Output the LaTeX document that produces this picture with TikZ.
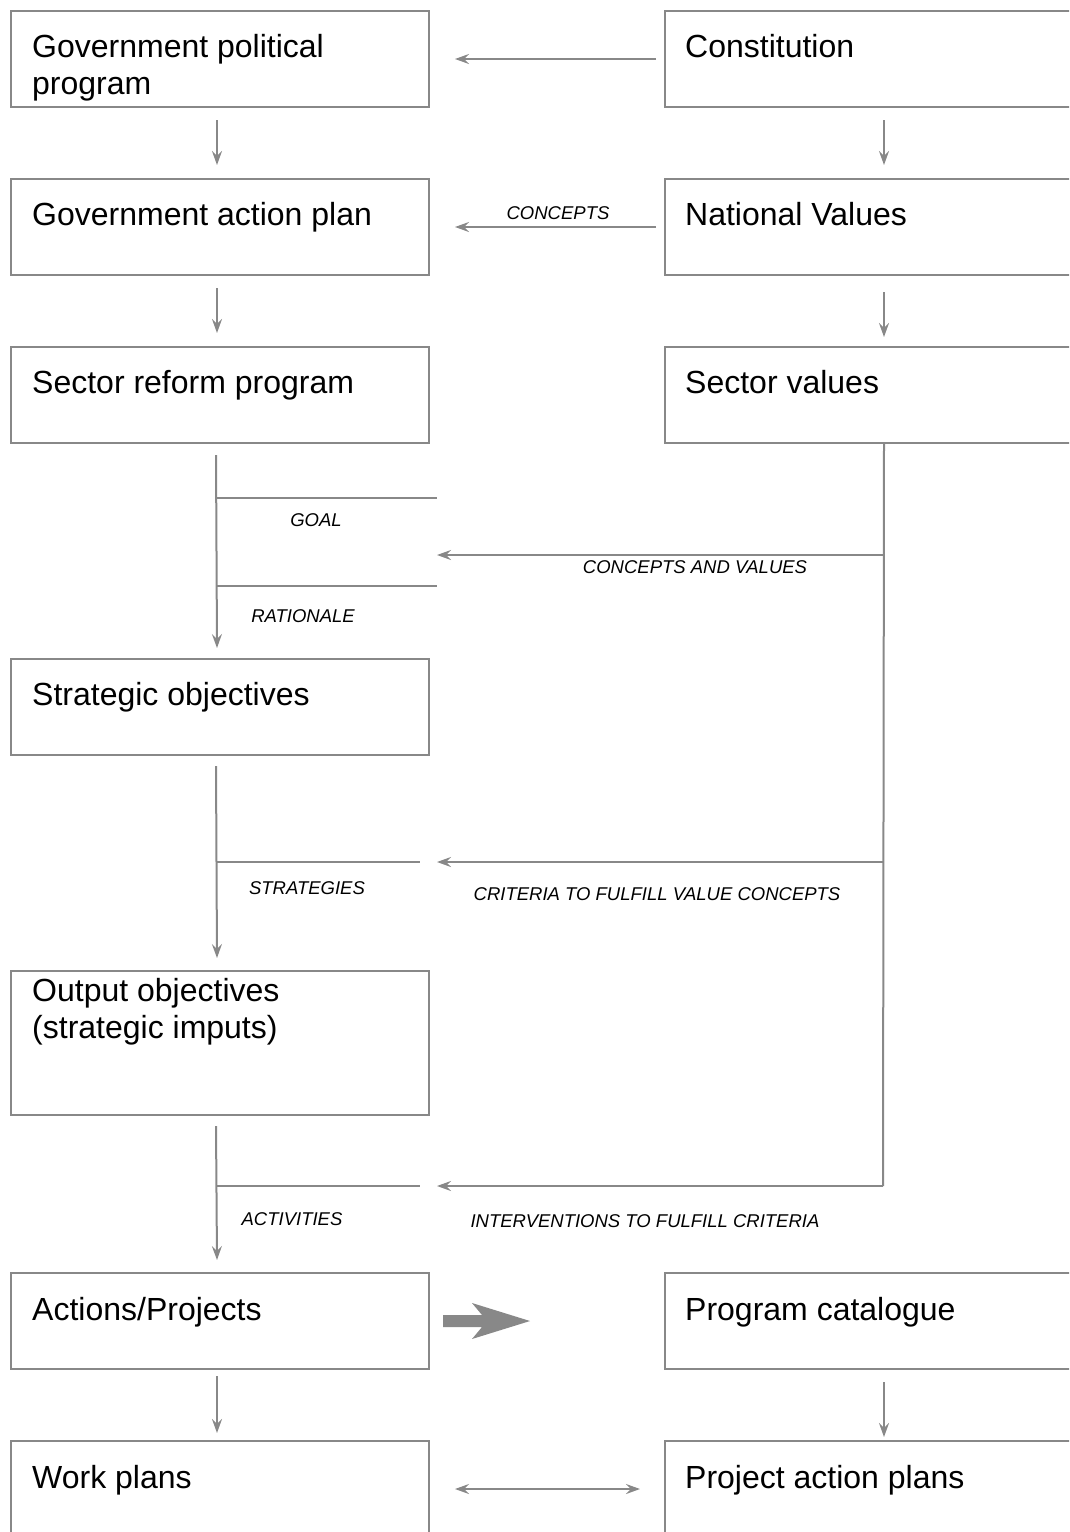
\documentclass[tikz,border=0pt]{standalone}
\usepackage{fontspec}
\setmainfont{Liberation Sans}
\usetikzlibrary{arrows.meta,calc}
\definecolor{ln}{RGB}{136,136,136}
\begin{document}
\begin{tikzpicture}[x=1pt,y=-1pt,
  box/.style={draw=ln,line width=2pt,rectangle,anchor=north west,inner sep=0pt,minimum height=96pt},
  lbox/.style={box,minimum width=418pt},
  rbox/.style={box,minimum width=438pt},
  btxt/.style={anchor=base west,inner sep=0pt,font=\fontsize{32}{37}\selectfont,align=left},
  lab/.style={inner sep=0pt,font=\fontsize{18.5}{22}\selectfont\itshape},
  ln/.style={draw=ln,line width=2pt},
  arr/.style={ln,-{Stealth[length=14pt,width=10pt,inset=5pt]}},
  darr/.style={ln,{Stealth[length=14pt,width=10pt,inset=5pt]}-{Stealth[length=14pt,width=10pt,inset=5pt]}}]
\useasboundingbox (0,0) rectangle (1069,1532);
\clip (0,0) rectangle (1069,1532);
% boxes
\node[lbox] (gpp) at (10,10) {};
\node[rbox] (con) at (664,10) {};
\node[lbox] (gap) at (10,178) {};
\node[rbox] (nv) at (664,178) {};
\node[lbox] (srp) at (10,346) {};
\node[rbox] (sv) at (664,346) {};
\node[lbox] (so) at (10,658) {};
\node[lbox,minimum height=144pt] (oo) at (10,970) {};
\node[lbox] (ap) at (10,1272) {};
\node[rbox] (pc) at (664,1272) {};
\node[lbox,minimum height=130pt] (wp) at (10,1440) {};
\node[rbox,minimum height=130pt] (pap) at (664,1440) {};
% box texts (base anchor = last line)
\node[btxt] (gppt) at ($(gpp.north west)+(22,84)$) {Government political\\program};
\node[btxt] (cont) at ($(con.north west)+(21,47)$) {Constitution};
\node[btxt] (gapt) at ($(gap.north west)+(22,47)$) {Government action plan};
\node[btxt] (nvt) at ($(nv.north west)+(21,47)$) {National Values};
\node[btxt] (srpt) at ($(srp.north west)+(22,47)$) {Sector reform program};
\node[btxt] (svt) at ($(sv.north west)+(21,47)$) {Sector values};
\node[btxt] (sot) at ($(so.north west)+(22,47)$) {Strategic objectives};
\node[btxt] (oot) at ($(oo.north west)+(22,68)$) {Output objectives\\(strategic imputs)};
\node[btxt] (apt) at ($(ap.north west)+(22,48)$) {Actions/Projects};
\node[btxt] (pct) at ($(pc.north west)+(21,48)$) {Program catalogue};
\node[btxt] (wpt) at ($(wp.north west)+(22,48)$) {Work plans};
\node[btxt] (papt) at ($(pap.north west)+(21,48)$) {Project action plans};
% horizontal arrows top
\draw[arr] ([xshift=-8pt]con.west) -- ([xshift=25pt]gpp.east);
\draw[arr] ([xshift=-8pt]nv.west) -- ([xshift=25pt]gap.east);
\node[lab] (lconc) at (558,213) {CONCEPTS};
% vertical arrows
\draw[arr] ($(gpp.south)+(-3,12)$) -- ($(gap.north)+(-3,-13)$);
\draw[arr] ($(gap.south)+(-3,12)$) -- ($(srp.north)+(-3,-13)$);
\draw[arr] ($(con.south)+(0,12)$) -- ($(nv.north)+(0,-13)$);
\draw[arr] ($(nv.south)+(0,16)$) -- ($(sv.north)+(0,-9)$);
\draw[arr] ($(ap.south)+(-3,6)$) -- ($(wp.north)+(-3,-7)$);
\draw[arr] ($(pc.south)+(0,12)$) -- ($(pap.north)+(0,-3)$);
% left chain
\coordinate (s1) at (216,455);
\coordinate (g1) at (216,498);
\coordinate (g1e) at (437,498);
\coordinate (r1) at (216,586);
\coordinate (r1e) at (437,586);
\draw[arr] (s1) -- ($(so.north)+(-3,-10)$);
\draw[ln] (g1) -- (g1e);
\draw[ln] (r1) -- (r1e);
\node[lab] (lgoal) at (316,520) {GOAL};
\node[lab] (lrat) at (303,616) {RATIONALE};
\coordinate (s2) at (216,766);
\coordinate (st) at (216,862);
\coordinate (ste) at (420,862);
\draw[arr] (s2) -- ($(oo.north)+(-3,-12)$);
\draw[ln] (st) -- (ste);
\node[lab] (lstr) at (307,888) {STRATEGIES};
\coordinate (s3) at (216,1126);
\coordinate (ac) at (216,1186);
\coordinate (ace) at (420,1186);
\draw[arr] (s3) -- ($(ap.north)+(-3,-12)$);
\draw[ln] (ac) -- (ace);
\node[lab] (lact) at (292,1219) {ACTIVITIES};
% right trunk
\coordinate (j1) at (883,555);
\coordinate (j2) at (883,862);
\coordinate (j3) at (883,1186);
\coordinate (t1) at (437,555);
\coordinate (t2) at (437,862);
\coordinate (t3) at (437,1186);
\draw[ln] (sv.south) -- (j3);
\draw[arr] (j1) -- (t1);
\draw[arr] (j2) -- (t2);
\draw[arr] (j3) -- (t3);
\node[lab] (lcv) at (695,567) {CONCEPTS AND VALUES};
\node[lab] (lcrit) at (657,894) {CRITERIA TO FULFILL VALUE CONCEPTS};
\node[lab] (lint) at (645,1221) {INTERVENTIONS TO FULFILL CRITERIA};
% thick arrow
\fill[fill=ln] (443,1315) -- (482,1315) -- (472,1303) -- (530,1321) -- (472,1339) -- (482,1327) -- (443,1327) -- cycle;
% double arrow
\draw[darr] ($(wp.north east)+(25,49)$) -- ($(pap.north west)+(-24,49)$);
\end{tikzpicture}
\end{document}
